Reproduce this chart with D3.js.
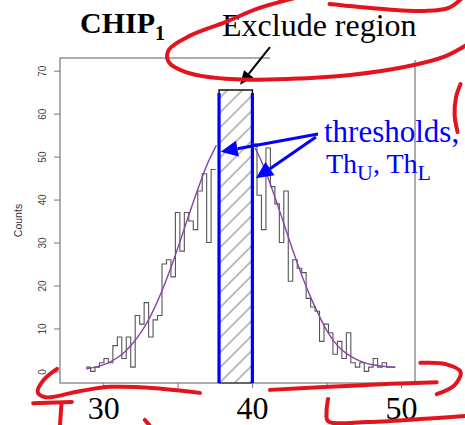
<!DOCTYPE html>
<html>
<head>
<meta charset="utf-8">
<script src="https://cdnjs.cloudflare.com/ajax/libs/d3/7.8.5/d3.min.js"></script>
<style>
  html, body { margin: 0; padding: 0; background: #fff; }
  svg { display: block; }
</style>
</head>
<body>
<div id="chart"></div>
<script>
// histogram counts (bins of 0.3)
const binWidth = 0.3;
const leftStart = 28.85;
const leftCounts = [1, 0, 1, 2, 3, 2, 6, 8, 3, 8, 1, 13, 11, 16, 8, 12, 13, 25, 26, 22, 37, 28, 37, 35, 33, 42, 46, 30, 47];
const rightStart = 40.03;
const rightCounts = [53, 41, 33, 52, 43, 39, 30, 42, 21, 26, 24, 23, 17, 15, 14, 7, 11, 9, 4, 7, 3, 9, 2, 1, 2, 0, 1, 3, 1, 2, 1, 1];

// fitted curve (purple), left and right of the excluded region
const fitLeftX = [28.85, 29.5, 30, 30.5, 31, 31.5, 32, 32.5, 33, 33.5, 34, 34.5, 35, 35.5, 36, 36.5, 37, 37.6];
const fitLeftY = [0.6, 1.0, 1.5, 2.3, 3.3, 4.7, 6.6, 8.9, 11.7, 15.2, 19.2, 23.7, 28.6, 33.8, 38.9, 43.8, 48.3, 52.6];
const fitRightX = [40.2, 40.5, 41, 41.5, 42, 42.5, 43, 43.5, 44, 44.5, 45, 45.5, 46, 46.5, 47, 47.5, 48, 48.5, 49, 49.6];
const fitRightY = [52.0, 49.9, 45.7, 40.9, 35.8, 30.6, 25.6, 20.9, 16.7, 13.0, 9.6, 7.0, 5.1, 3.8, 2.8, 2.1, 1.6, 1.3, 1.1, 1.0];

// thresholds Th_U, Th_L and top of the exclude box
const thresholds = [37.78, 40.02];
const excludeTop = 65.5;

const yTicks = [0, 10, 20, 30, 40, 50, 60, 70];
const xTicks = [30, 35, 40, 45, 50];
const xLabels = [30, 40, 50];

// annotation arrows [from, to] in data units
const excludeArrow = [[41.2, 75.5], [39.19, 66.7]];
const thresholdArrows = [
    [[44.43, 55.26], [37.89, 51.14]],
    [[44.29, 54.56], [40.26, 44.95]]
];

// red hand-drawn marks, in data units
const redStrokes = [
    [[43.2, 87.2], [40.5, 84.6], [38.2, 81.3], [35.8, 78.1], [34.4, 74.8], [34.4, 72.0], [35.5, 69.7], [38.2, 68.1], [42.6, 68.1], [46.6, 69.0], [50.3, 70.9], [53.0, 73.4], [54.5, 76.2]],
    [[45.2, 85.5], [48.6, 84.4], [51.6, 83.9], [53.2, 84.6], [54.1, 86.9]],
    [[54.0, 66.9], [53.7, 63.9], [53.6, 59.7], [53.8, 55.7]],
    [[26.9, 0.6], [26.0, -2.0], [25.6, -4.8], [26.1, -6.0], [28.4, -4.6], [30.5, -3.6], [33.5, -3.9], [36.5, -5.0]],
    [[25.3, -7.4], [27.9, -7.1]],
    [[27.2, -7.4], [27.1, -12.5]],
    [[32.8, -11.3], [33.1, -12.5]],
    [[41.2, -4.3], [45.2, -3.6], [49.3, -2.9], [52.4, -2.5]],
    [[51.3, 2.0], [53.0, 1.7], [54.0, -0.1], [53.6, -3.2], [52.4, -5.3]],
    [[45.1, -6.4], [45.0, -9.5], [45.1, -11.6], [47.7, -11.8], [51.3, -11.1], [54.3, -10.4]]
];

const width = 465, height = 425;
const margin = { top: 58, right: 50, bottom: 42, left: 60 };
const serif = '"Liberation Serif", "Times New Roman", serif';
const sans = '"Liberation Sans", Arial, sans-serif';

const svg = d3.select("#chart").append("svg")
    .attr("width", width)
    .attr("height", height);

const x = d3.scaleLinear().domain([27.1, 50.94]).range([margin.left, width - margin.right]);
const y = d3.scaleLinear().domain([-2.7, 72.95]).range([height - margin.bottom, margin.top]);

// hatch pattern
const defs = svg.append("defs");
defs.append("pattern")
    .attr("id", "hatch")
    .attr("patternUnits", "userSpaceOnUse")
    .attr("width", 10.6)
    .attr("height", 10.6)
    .attr("patternTransform", "rotate(45)")
  .append("line")
    .attr("x1", 2).attr("y1", 0)
    .attr("x2", 2).attr("y2", 10.6)
    .attr("stroke", "#a8a8a8")
    .attr("stroke-width", 1.5);

// exclude region
svg.append("rect")
    .attr("x", x(thresholds[0]))
    .attr("y", y(excludeTop))
    .attr("width", x(thresholds[1]) - x(thresholds[0]))
    .attr("height", y.range()[0] - y(excludeTop))
    .attr("fill", "url(#hatch)")
    .attr("stroke", "#000")
    .attr("stroke-width", 1.4);

// plot frame
svg.append("rect")
    .attr("x", margin.left)
    .attr("y", margin.top)
    .attr("width", width - margin.left - margin.right)
    .attr("height", height - margin.top - margin.bottom)
    .attr("fill", "none")
    .attr("stroke", "#777")
    .attr("stroke-width", 1.2);

// threshold lines
svg.selectAll(".thr")
    .data(thresholds)
    .join("line")
    .attr("class", "thr")
    .attr("x1", d => x(d)).attr("x2", d => x(d))
    .attr("y1", y(excludeTop) + 3)
    .attr("y2", y.range()[0])
    .attr("stroke", "#0000ff")
    .attr("stroke-width", 3.2);

// histogram outlines
function steps(start, counts) {
    const pts = counts.map((c, i) => [start + i * binWidth, c]);
    pts.push([start + counts.length * binWidth, counts[counts.length - 1]]);
    return pts;
}
const stepLine = d3.line()
    .x(d => x(d[0]))
    .y(d => y(d[1]))
    .curve(d3.curveStepAfter);

[steps(leftStart, leftCounts), steps(rightStart, rightCounts)].forEach(pts => {
    svg.append("path")
        .attr("d", stepLine(pts))
        .attr("fill", "none")
        .attr("stroke", "#555")
        .attr("stroke-width", 1.1);
});

// fitted curve
const fitLine = d3.line()
    .x(d => x(d[0]))
    .y(d => y(d[1]))
    .curve(d3.curveCatmullRom);

[[fitLeftX, fitLeftY], [fitRightX, fitRightY]].forEach(([xs, ys]) => {
    svg.append("path")
        .attr("d", fitLine(xs.map((v, i) => [v, ys[i]])))
        .attr("fill", "none")
        .attr("stroke", "#8646a6")
        .attr("stroke-width", 1.4);
});

// y axis
const yAxis = svg.append("g")
    .attr("transform", `translate(${margin.left},0)`)
    .call(d3.axisLeft(y).tickValues(yTicks).tickSize(6));
yAxis.select(".domain").remove();
yAxis.selectAll(".tick line").attr("stroke", "#777");
yAxis.selectAll(".tick text")
    .attr("transform", "rotate(-90)")
    .attr("x", 0)
    .attr("y", -14)
    .attr("dy", 0)
    .attr("text-anchor", "middle")
    .attr("fill", "#444")
    .style("font-family", sans)
    .style("font-size", "10px");

svg.append("text")
    .attr("transform", `translate(22,${(margin.top + height - margin.bottom) / 2}) rotate(-90)`)
    .attr("text-anchor", "middle")
    .attr("fill", "#333")
    .style("font-family", sans)
    .style("font-size", "10.5px")
    .text("Counts");

// x axis
const xAxis = svg.append("g")
    .attr("transform", `translate(0,${height - margin.bottom})`)
    .call(d3.axisBottom(x).tickValues(xTicks).tickSize(5).tickPadding(8)
        .tickFormat(d => xLabels.includes(d) ? d : ""));
xAxis.select(".domain").remove();
xAxis.selectAll(".tick line").attr("stroke", "#777");
xAxis.selectAll(".tick text")
    .attr("fill", "#000")
    .style("font-family", serif)
    .style("font-size", "32px");

// white patch behind the exclude label (hides part of the frame top)
svg.append("rect")
    .attr("x", x(excludeArrow[0][0]))
    .attr("y", 0)
    .attr("width", width - x(excludeArrow[0][0]))
    .attr("height", margin.top + 2)
    .attr("fill", "#fff");

// arrows
function arrow(from, to, color, lw, headLen, headWid) {
    const x0 = x(from[0]), y0 = y(from[1]), x1 = x(to[0]), y1 = y(to[1]);
    const ang = Math.atan2(y1 - y0, x1 - x0);
    const bx = x1 - headLen * Math.cos(ang), by = y1 - headLen * Math.sin(ang);
    const px = -Math.sin(ang) * headWid / 2, py = Math.cos(ang) * headWid / 2;
    svg.append("line")
        .attr("x1", x0).attr("y1", y0)
        .attr("x2", bx).attr("y2", by)
        .attr("stroke", color)
        .attr("stroke-width", lw);
    svg.append("path")
        .attr("d", `M${x1},${y1}L${bx + px},${by + py}L${bx - px},${by - py}Z`)
        .attr("fill", color);
}
arrow(excludeArrow[0], excludeArrow[1], "#000", 2, 14, 12);
thresholdArrows.forEach(a => arrow(a[0], a[1], "#0000ff", 3, 17, 16));

// titles and labels
const title = svg.append("text")
    .attr("x", 80).attr("y", 33)
    .style("font-family", serif)
    .style("font-weight", "bold")
    .style("font-size", "30px")
    .text("CHIP");
title.append("tspan")
    .attr("dy", 7)
    .style("font-size", "20px")
    .text("1");

svg.append("text")
    .attr("x", 222).attr("y", 36)
    .style("font-family", serif)
    .style("font-size", "32px")
    .text("Exclude region");

svg.append("text")
    .attr("x", 324).attr("y", 142)
    .attr("fill", "#0000ff")
    .style("font-family", serif)
    .style("font-size", "31px")
    .text("thresholds,");

const th = svg.append("text")
    .attr("x", 326).attr("y", 173)
    .attr("fill", "#0000ff")
    .style("font-family", serif)
    .style("font-size", "28px");
th.append("tspan").text("Th");
th.append("tspan").attr("dy", 7).style("font-size", "22px").text("U");
th.append("tspan").attr("dy", -7).text(", Th");
th.append("tspan").attr("dy", 7).style("font-size", "22px").text("L");

// red pen marks
const penLine = d3.line()
    .x(d => x(d[0]))
    .y(d => y(d[1]))
    .curve(d3.curveCatmullRom);
svg.selectAll(".pen")
    .data(redStrokes)
    .join("path")
    .attr("class", "pen")
    .attr("d", penLine)
    .attr("fill", "none")
    .attr("stroke", "#e3141e")
    .attr("stroke-width", 4)
    .attr("stroke-linecap", "round")
    .attr("stroke-linejoin", "round");
</script>
</body>
</html>
